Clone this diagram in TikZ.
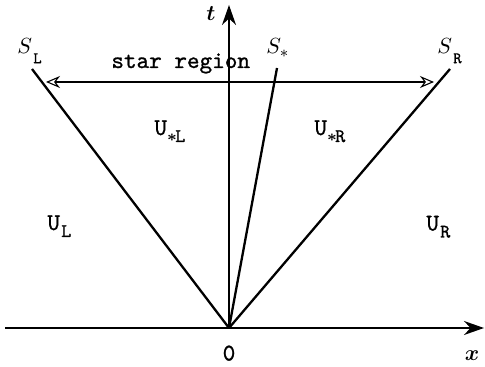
\documentclass[tikz,border=0pt]{standalone}
\usepackage{amsmath}
\usepackage{fontspec}
\newfontfamily\heavytt{lmmono10-regular.otf}[FakeBold=1]
\usetikzlibrary{arrows.meta}
\newcommand\usub[1]{\raisebox{-3.5pt}{\fontsize{9.6}{10}\selectfont\heavytt #1}}
\newcommand\ustar{\raisebox{-3.3pt}{$\scriptstyle\boldsymbol{*}$}}
\newcommand\ssub[1]{\raisebox{-4.6pt}{\fontsize{8}{9}\selectfont\heavytt #1}}
\begin{document}
\begin{tikzpicture}[x=0.5pt,y=-0.5pt,
  axis/.style={line width=0.7pt,-{Stealth[length=10pt,width=7pt]}},
  wave/.style={line width=1.15pt},
  span/.style={line width=0.55pt,{Stealth[open,length=7pt,width=6pt]}-{Stealth[open,length=7pt,width=6pt]}},
  lab/.style={font=\fontsize{12}{14}\selectfont\heavytt,inner sep=0pt,anchor=base west},
  mlab/.style={font=\fontsize{11}{14}\selectfont,inner sep=0pt,anchor=base west}]
\useasboundingbox (0,0) rectangle (485,367);
\coordinate (O) at (229,328);
\coordinate (tTop) at (229,5);
\coordinate (xL) at (5,328);
\coordinate (xR) at (484,328);
\coordinate (SLtop) at (32,69);
\coordinate (SStop) at (277,68);
\coordinate (SRtop) at (450,69);
\coordinate (aL) at (46,82);
\coordinate (aR) at (434,82);
\draw[axis] (O) -- (tTop);
\draw[axis] (xL) -- (xR);
\draw[wave] (O) -- (SLtop);
\draw[wave] (O) -- (SStop);
\draw[wave] (O) -- (SRtop);
\draw[span] (aL) -- (aR);
\node[mlab] (sl) at (17,54) {$S$\kern0.6pt\ssub{L}};
\node[mlab] (ss) at (266,54) {$S_{*}$};
\node[mlab] (sr) at (437,54) {$S$\kern0.6pt\ssub{R}};
\node[lab] (star) at (111,68) {star region};
\node[lab] (usl) at (154,135) {U\ustar\kern-0.8pt\usub{L}};
\node[lab] (usr) at (314,135) {U\ustar\kern-0.8pt\usub{R}};
\node[lab] (ul) at (47,230) {U\kern0.6pt\usub{L}};
\node[lab] (ur) at (426,230.5) {U\kern0.6pt\usub{R}};
\node[lab,anchor=base] (zero) at (229,360.5) {0};
\node[mlab,anchor=base] (xlab) at (472,360.5) {$\boldsymbol{x}$};
\node[mlab,anchor=base] (tlab) at (211,21) {$\boldsymbol{t}$};
\end{tikzpicture}
\end{document}
